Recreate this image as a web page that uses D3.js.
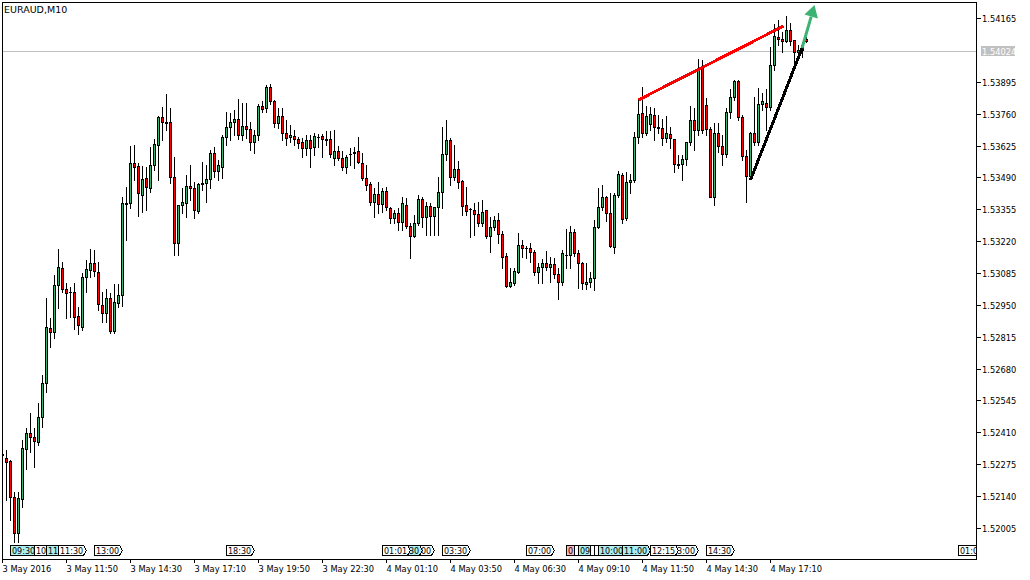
<!DOCTYPE html>
<html><head><meta charset="utf-8">
<script src="https://cdn.jsdelivr.net/npm/d3@7"></script>
<style>
html,body{margin:0;padding:0;background:#fff;}
svg{display:block;}
</style>
</head><body><div id="chart"></div>
<script>
// ---------- DATA ----------
const symbolLabel = "EURAUD,M10";
const opens = [1.52314,1.52301,1.52289,1.52136,1.51984,1.52128,1.52340,1.52407,1.52390,1.52369,
1.52475,1.52619,1.52852,1.52835,1.53034,1.53106,1.53017,1.53004,1.53004,1.52903,
1.52856,1.53068,1.53098,1.53127,1.53089,1.52949,1.52915,1.52979,1.52839,1.52958,
1.52992,1.53381,1.53381,1.53551,1.53538,1.53415,1.53487,1.53445,1.53542,1.53627,
1.53746,1.53724,1.53724,1.53491,1.53212,1.53373,1.53381,1.53453,1.53445,1.53347,
1.53462,1.53466,1.53483,1.53593,1.53517,1.53534,1.53661,1.53703,1.53724,1.53737,
1.53669,1.53707,1.53695,1.53640,1.53669,1.53792,1.53784,1.53873,1.53813,1.53720,
1.53750,1.53678,1.53661,1.53665,1.53652,1.53640,1.53614,1.53648,1.53619,1.53661,
1.53665,1.53652,1.53652,1.53572,1.53602,1.53572,1.53534,1.53589,1.53593,1.53602,
1.53551,1.53487,1.53462,1.53386,1.53419,1.53377,1.53432,1.53360,1.53318,1.53339,
1.53301,1.53373,1.53284,1.53242,1.53297,1.53398,1.53322,1.53369,1.53326,1.53364,
1.53428,1.53589,1.53648,1.53491,1.53525,1.53474,1.53373,1.53356,1.53352,1.53335,
1.53297,1.53352,1.53242,1.53280,1.53309,1.53250,1.53157,1.53030,1.53043,1.53089,
1.53203,1.53191,1.53191,1.53174,1.53089,1.53110,1.53127,1.53110,1.53123,1.53081,
1.53047,1.53161,1.53161,1.53258,1.53170,1.53127,1.53038,1.53047,1.53064,1.53280,
1.53364,1.53407,1.53339,1.53195,1.53415,1.53500,1.53318,1.53470,1.53479,1.53661,
1.53762,1.53678,1.53716,1.53754,1.53703,1.53699,1.53657,1.53674,1.53652,1.53542,
1.53547,1.53568,1.53640,1.53733,1.53690,1.53953,1.53796,1.53695,1.53407,1.53678,
1.53623,1.53589,1.53767,1.53830,1.53898,1.53746,1.53580,1.53496,1.53678,1.53640,
1.53801,1.53805,1.53788,1.53966,1.54084,1.54076,1.54067,1.54114,1.54072,1.54021,
1.54029,1.54076];
const highs = [1.52327,1.52335,1.52293,1.52157,1.52157,1.52378,1.52428,1.52492,1.52428,1.52534,
1.52653,1.52979,1.52894,1.53076,1.53187,1.53131,1.53043,1.53026,1.53043,1.52941,
1.53085,1.53140,1.53187,1.53182,1.53131,1.53004,1.53017,1.53000,1.53038,1.53038,
1.53407,1.53449,1.53623,1.53627,1.53551,1.53538,1.53534,1.53619,1.53652,1.53750,
1.53788,1.53843,1.53784,1.53576,1.53375,1.53445,1.53500,1.53542,1.53470,1.53466,
1.53555,1.53542,1.53606,1.53619,1.53563,1.53669,1.53767,1.53762,1.53775,1.53822,
1.53805,1.53805,1.53724,1.53690,1.53801,1.53813,1.53881,1.53885,1.53818,1.53784,
1.53784,1.53733,1.53712,1.53690,1.53661,1.53657,1.53669,1.53669,1.53678,1.53674,
1.53674,1.53686,1.53686,1.53690,1.53623,1.53602,1.53585,1.53614,1.53619,1.53661,
1.53593,1.53542,1.53470,1.53445,1.53470,1.53445,1.53449,1.53364,1.53352,1.53360,
1.53407,1.53402,1.53297,1.53330,1.53415,1.53407,1.53386,1.53381,1.53364,1.53491,
1.53703,1.53733,1.53657,1.53627,1.53559,1.53479,1.53449,1.53360,1.53381,1.53386,
1.53394,1.53352,1.53322,1.53326,1.53339,1.53263,1.53170,1.53106,1.53106,1.53254,
1.53225,1.53199,1.53212,1.53182,1.53127,1.53144,1.53178,1.53153,1.53148,1.53106,
1.53182,1.53271,1.53284,1.53271,1.53182,1.53131,1.53127,1.53089,1.53309,1.53445,
1.53458,1.53411,1.53424,1.53424,1.53517,1.53508,1.53513,1.53504,1.53682,1.53818,
1.53873,1.53792,1.53788,1.53784,1.53754,1.53737,1.53750,1.53703,1.53652,1.53585,
1.53585,1.53640,1.53792,1.53784,1.53991,1.53987,1.53826,1.53703,1.53720,1.53720,
1.53669,1.53784,1.53864,1.53902,1.53902,1.53754,1.53606,1.53682,1.53830,1.53868,
1.53847,1.53864,1.54042,1.54139,1.54156,1.54105,1.54173,1.54144,1.54072,1.54050,
1.54063,1.54084];
const lows = [1.52297,1.52124,1.52039,1.51946,1.51946,1.52094,1.52255,1.52327,1.52263,1.52356,
1.52433,1.52581,1.52772,1.52810,1.52937,1.53004,1.52894,1.52899,1.52848,1.52827,
1.52843,1.53004,1.53068,1.53072,1.52928,1.52877,1.52877,1.52831,1.52831,1.52941,
1.52945,1.53225,1.53360,1.53479,1.53326,1.53343,1.53352,1.53428,1.53521,1.53479,
1.53648,1.53690,1.53466,1.53161,1.53161,1.53339,1.53322,1.53394,1.53318,1.53339,
1.53436,1.53386,1.53445,1.53491,1.53479,1.53487,1.53627,1.53648,1.53669,1.53652,
1.53648,1.53657,1.53606,1.53593,1.53648,1.53767,1.53767,1.53801,1.53703,1.53699,
1.53648,1.53627,1.53640,1.53627,1.53614,1.53576,1.53585,1.53534,1.53585,1.53619,
1.53576,1.53627,1.53576,1.53542,1.53563,1.53521,1.53508,1.53542,1.53530,1.53551,
1.53479,1.53436,1.53373,1.53322,1.53339,1.53343,1.53352,1.53297,1.53297,1.53267,
1.53267,1.53275,1.53148,1.53237,1.53288,1.53280,1.53246,1.53246,1.53246,1.53246,
1.53360,1.53563,1.53458,1.53479,1.53445,1.53330,1.53330,1.53237,1.53246,1.53284,
1.53284,1.53233,1.53174,1.53267,1.53212,1.53106,1.53026,1.53026,1.53034,1.53085,
1.53153,1.53148,1.53131,1.53076,1.53043,1.53043,1.53098,1.53047,1.53064,1.52975,
1.53034,1.53106,1.53106,1.53157,1.53021,1.53017,1.53017,1.53026,1.53013,1.53275,
1.53352,1.53305,1.53195,1.53170,1.53407,1.53297,1.53309,1.53424,1.53470,1.53635,
1.53661,1.53669,1.53690,1.53648,1.53678,1.53627,1.53640,1.53614,1.53513,1.53530,
1.53479,1.53542,1.53627,1.53606,1.53669,1.53678,1.53669,1.53407,1.53373,1.53597,
1.53542,1.53576,1.53741,1.53818,1.53733,1.53563,1.53386,1.53487,1.53627,1.53627,
1.53775,1.53690,1.53775,1.53945,1.54050,1.54021,1.54063,1.54050,1.53978,1.53987,
1.54000,1.54063];
const closes = [1.52318,1.52284,1.52136,1.51984,1.52132,1.52344,1.52407,1.52390,1.52373,1.52475,
1.52619,1.52856,1.52835,1.53034,1.53110,1.53017,1.53000,1.53003,1.52899,1.52865,
1.53068,1.53102,1.53127,1.53093,1.52954,1.52915,1.52979,1.52839,1.52962,1.52992,
1.53381,1.53379,1.53551,1.53534,1.53424,1.53483,1.53449,1.53542,1.53631,1.53746,
1.53724,1.53722,1.53491,1.53212,1.53373,1.53386,1.53453,1.53445,1.53352,1.53462,
1.53466,1.53483,1.53593,1.53517,1.53542,1.53661,1.53703,1.53724,1.53737,1.53669,
1.53707,1.53695,1.53640,1.53669,1.53792,1.53779,1.53873,1.53813,1.53720,1.53750,
1.53678,1.53657,1.53669,1.53652,1.53635,1.53614,1.53648,1.53614,1.53665,1.53659,
1.53652,1.53650,1.53589,1.53602,1.53572,1.53534,1.53576,1.53587,1.53597,1.53555,
1.53487,1.53458,1.53386,1.53419,1.53377,1.53432,1.53364,1.53318,1.53339,1.53301,
1.53381,1.53284,1.53242,1.53297,1.53398,1.53322,1.53369,1.53326,1.53364,1.53428,
1.53589,1.53648,1.53491,1.53525,1.53470,1.53369,1.53347,1.53354,1.53335,1.53297,
1.53343,1.53242,1.53280,1.53309,1.53250,1.53153,1.53030,1.53047,1.53093,1.53203,
1.53191,1.53189,1.53174,1.53089,1.53110,1.53127,1.53110,1.53123,1.53081,1.53047,
1.53170,1.53163,1.53258,1.53170,1.53127,1.53043,1.53047,1.53064,1.53280,1.53364,
1.53407,1.53339,1.53199,1.53415,1.53504,1.53314,1.53470,1.53479,1.53661,1.53758,
1.53678,1.53750,1.53758,1.53703,1.53701,1.53657,1.53678,1.53657,1.53547,1.53547,
1.53568,1.53640,1.53733,1.53690,1.53953,1.53690,1.53695,1.53407,1.53678,1.53623,
1.53589,1.53767,1.53830,1.53898,1.53746,1.53580,1.53496,1.53678,1.53640,1.53801,
1.53813,1.53788,1.53966,1.54089,1.54076,1.54067,1.54114,1.54067,1.54021,1.54029,
1.54050,1.54067];
const priceTicks = [1.54165,1.54030,1.53895,1.53760,1.53625,1.53490,1.53355,1.53220,1.53085,
1.52950,1.52815,1.52680,1.52545,1.52410,1.52275,1.52140,1.52005];
const lastPrice = 1.54024;
const timeTickBars = [0,16,32,48,64,80,96,112,128,144,160,176,192];
const timeTickLabels = ["3 May 2016","3 May 11:50","3 May 14:30","3 May 17:10","3 May 19:50",
"3 May 22:30","4 May 01:10","4 May 03:50","4 May 06:30","4 May 09:10","4 May 11:50",
"4 May 14:30","4 May 17:10"];
const eventLabels = ["09:30","10:30","11:00","11:30","13:00","18:30","02:00","01:30","01:01",
"03:30","07:00","08:45","09:00","09:15","09:45","09:50","10:00","11:00","13:00","12:15","14:30","01:00"];
const eventBars = [2,8,11,14,23,56,101,98,95,110,131,141,143,144,147,148,149,155,167,162,176,239];
const eventKinds = ["c","w","c","w","w","w","w","c","w","w","w","p","w","c","w","w","c","c","w","w","w","w"];
const redLine = [[159,1.53818],[195.25,1.54131]];
const blackLine = [[187,1.53479],[199.9,1.54038]];
const greenArrow = [[199.9,1.54038],[203,1.54220]];

// ---------- CHART ----------
const W = 1030, H = 580;
const P = {left:2, top:2, right:977, bottom:559};
const FONT = "'DejaVu Sans', Verdana, sans-serif";
const UP = "#3cb371", DOWN = "#ff0000";
const kindFill = {c:"#afeeee", w:"#ffffff", p:"#ffb6c1"};

const svg = d3.select("#chart").append("svg").attr("width",W).attr("height",H)
  .style("font-family",FONT);
svg.append("rect").attr("width",W).attr("height",H).attr("fill","#fff");

const x = d3.scaleLinear().domain([0,243.5]).range([P.left+0.5, P.right-0.5]);
const y = d3.scaleLinear().domain([priceTicks[0], priceTicks[priceTicks.length-1]]).range([18,528]);
const px = i => Math.floor(x(i)) + 0.5;
const py = v => Math.round(y(v));

svg.append("defs").append("clipPath").attr("id","clip")
  .append("rect").attr("x",P.left+1).attr("y",P.top+1)
  .attr("width",P.right-P.left-1).attr("height",P.bottom-P.top-1);

const plot = svg.append("g").attr("clip-path","url(#clip)");

// current price line
plot.append("line").attr("x1",P.left).attr("x2",P.right)
  .attr("y1",py(lastPrice)+0.5).attr("y2",py(lastPrice)+0.5)
  .attr("stroke","#c0c0c0").attr("shape-rendering","crispEdges");

// candles
const cg = plot.append("g").attr("shape-rendering","crispEdges");
const idx = d3.range(opens.length);
cg.selectAll("line.wick").data(idx).join("line").attr("class","wick")
  .attr("x1",i=>px(i)).attr("x2",i=>px(i))
  .attr("y1",i=>py(highs[i])).attr("y2",i=>py(lows[i])+1)
  .attr("stroke","#000");
cg.selectAll("rect.body").data(idx.filter(i=>py(opens[i])!==py(closes[i]))).join("rect")
  .attr("class","body")
  .attr("x",i=>px(i)-1).attr("width",2)
  .attr("y",i=>Math.min(py(opens[i]),py(closes[i]))+0.5)
  .attr("height",i=>Math.abs(py(opens[i])-py(closes[i])))
  .attr("fill",i=>closes[i]>=opens[i]?UP:DOWN)
  .attr("stroke","#000");
cg.selectAll("line.doji").data(idx.filter(i=>py(opens[i])===py(closes[i]))).join("line")
  .attr("class","doji")
  .attr("x1",i=>px(i)-1.5).attr("x2",i=>px(i)+1.5)
  .attr("y1",i=>py(opens[i])+0.5).attr("y2",i=>py(opens[i])+0.5)
  .attr("stroke","#000");

// trend lines
const line = d3.line().x(d=>x(d[0])).y(d=>y(d[1]));
plot.append("path").attr("d",line(redLine)).attr("stroke","#ff0000").attr("stroke-width",3)
  .attr("fill","none").attr("shape-rendering","crispEdges");
plot.append("path").attr("d",line(blackLine)).attr("stroke","#000").attr("stroke-width",3)
  .attr("fill","none").attr("shape-rendering","crispEdges");

// green arrow
{
  const x0=x(greenArrow[0][0]), y0=y(greenArrow[0][1]);
  const x1=x(greenArrow[1][0]), y1=y(greenArrow[1][1]);
  const dx=x1-x0, dy=y1-y0, L=Math.hypot(dx,dy), ux=dx/L, uy=dy/L;
  const hl=12, hw=7;
  const bx=x1-ux*hl, by=y1-uy*hl;
  plot.append("line").attr("x1",x0).attr("y1",y0).attr("x2",bx).attr("y2",by)
    .attr("stroke",UP).attr("stroke-width",3);
  plot.append("path")
    .attr("d",`M${x1},${y1}L${bx-uy*hw},${by+ux*hw}L${bx+uy*hw},${by-ux*hw}Z`)
    .attr("fill",UP);
}

// event markers (overlapping flags, later ones drawn on top)
const eg = plot.append("g");
const BW = 25, TIP = 3;
const boxX = eventBars.map(b => Math.floor(x(b)) + 0.5);
eventLabels.forEach((t,k)=>{
  const bx = boxX[k], top = 545.5, h = 10;
  eg.append("path")
    .attr("d",`M${bx},${top}h${BW}l${TIP},${h/2}l${-TIP},${h/2}h${-BW}Z`)
    .attr("fill",kindFill[eventKinds[k]]).attr("stroke","#000")
    .attr("shape-rendering","crispEdges");
  // visible span of this flag once later flags are drawn over it
  let a = bx, e = Math.min(bx + BW + TIP, P.right);
  for (let j=k+1;j<boxX.length;j++){
    const os = boxX[j], oe = boxX[j] + BW + TIP;
    if (oe <= a || os >= e) continue;
    if (os <= a) a = Math.max(a, os + BW + 1);
    else e = Math.min(e, os);
  }
  const txt = eg.append("text").attr("x",bx+1.5).attr("y",top+8.5)
    .attr("font-size",8).attr("fill","#000").text(t);
  const node = txt.node();
  let first=-1, last=-1;
  for (let c=0;c<t.length;c++){
    const s = node.getStartPositionOfChar(c).x, en = node.getEndPositionOfChar(c).x;
    if (s >= a - 1 && en <= e + 1){ if(first<0) first=c; last=c; }
  }
  if (first<0) { txt.remove(); }
  else {
    const sx = node.getStartPositionOfChar(first).x;
    txt.attr("x",sx).text(t.slice(first,last+1));
  }
});

// frame
svg.append("path")
  .attr("d",`M${P.left+0.5},${P.top+0.5}H${P.right-0.5}V${P.bottom+0.5}H${P.left+0.5}Z`)
  .attr("fill","none").attr("stroke","#000").attr("shape-rendering","crispEdges");

// price axis
const ya = svg.append("g");
priceTicks.filter(t=>Math.abs(t-lastPrice)>0.0001).forEach(t=>{
  const yy = py(t)+0.5;
  ya.append("line").attr("x1",P.right).attr("x2",P.right+4).attr("y1",yy).attr("y2",yy)
    .attr("stroke","#000").attr("shape-rendering","crispEdges");
  ya.append("text").attr("x",P.right+5).attr("y",yy+3).attr("font-size",8.3)
    .attr("fill","#000").text(d3.format(".5f")(t));
});
{
  const yy = py(lastPrice)+0.5;
  ya.append("rect").attr("x",P.right+4).attr("y",yy-5.5).attr("width",34).attr("height",10)
    .attr("fill","#c0c0c0");
  ya.append("text").attr("x",P.right+5).attr("y",yy+3).attr("font-size",8.3)
    .attr("fill","#fff").text(d3.format(".5f")(lastPrice));
}

// time axis
const xa = svg.append("g");
timeTickBars.forEach((b,k)=>{
  const xx = px(b);
  xa.append("line").attr("x1",xx).attr("x2",xx).attr("y1",P.bottom).attr("y2",P.bottom+4)
    .attr("stroke","#000").attr("shape-rendering","crispEdges");
  xa.append("text").attr("x",xx).attr("y",572).attr("font-size",8.3)
    .attr("fill","#000").text(timeTickLabels[k]);
});

// title
svg.append("text").attr("x",4).attr("y",13).attr("font-size",9.5)
  .attr("fill","#000").text(symbolLabel);
</script>
</body></html>
